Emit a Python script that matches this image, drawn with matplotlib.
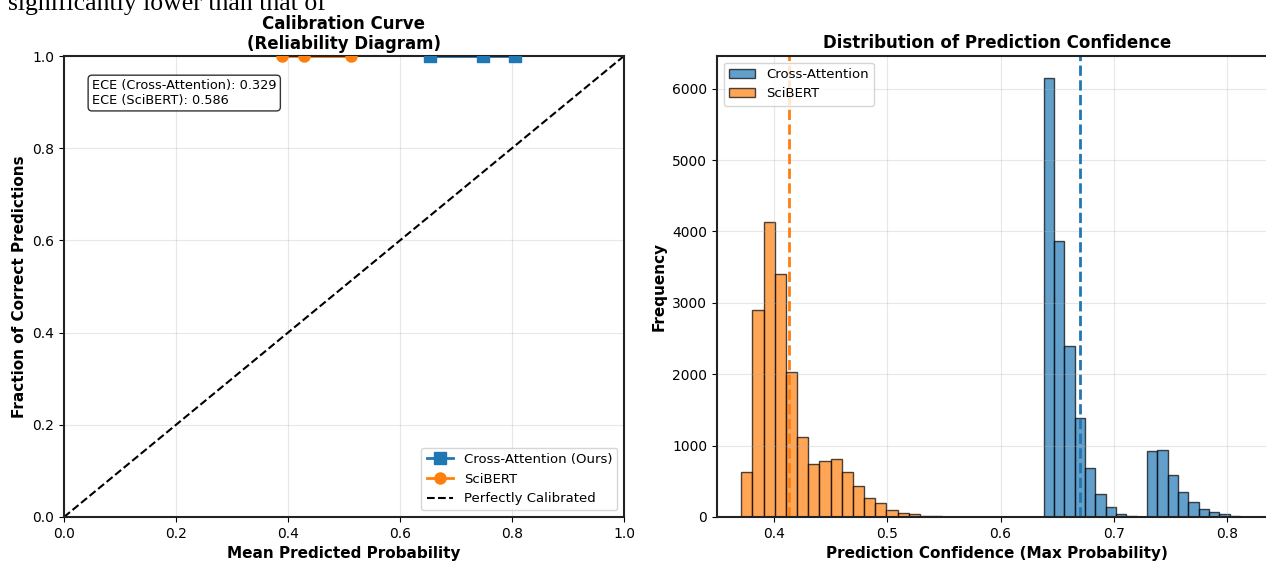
import numpy as np
import matplotlib
matplotlib.use("Agg")
import matplotlib.pyplot as plt
from matplotlib.lines import Line2D

# calibration points (all bins land on fraction = 1.0)
ca_prob = [0.654, 0.749, 0.806]
ca_frac = [1.0, 1.0, 1.0]
sb_prob = [0.390, 0.428, 0.513]
sb_frac = [1.0, 1.0, 1.0]
ece_ca = 0.329
ece_sb = 0.586

# confidence histograms (20 bins each)
sb_bin_start = 0.3711
sb_bin_width = 0.00986
sb_counts = [630, 2894, 4131, 3407, 2030, 1120, 737, 779, 807, 635,
             434, 271, 191, 98, 61, 37, 14, 9, 5, 2]
ca_bin_start = 0.638
ca_bin_width = 0.00912
ca_counts = [6150, 3860, 2396, 1391, 684, 321, 142, 38, 9, 0,
             925, 943, 590, 354, 212, 113, 71, 42, 14, 2]
sb_mean = 0.4132
ca_mean = 0.6703

blue = "#1f77b4"
orange = "#ff7f0e"

fig = plt.figure(figsize=(12.66, 5.63), dpi=100)

# stray caption text from the page above the figure
fig.text(8 / 1266, 1 - 10 / 563, "significantly lower than that of",
         family="Liberation Serif", fontsize=18.5, va="baseline", ha="left")

ax1 = fig.add_axes([64 / 1266, 1 - 517 / 563, 560 / 1266, 461 / 563])
ax2 = fig.add_axes([717 / 1266, 1 - 517 / 563, 560 / 1266, 461 / 563])

# left: reliability diagram (markers clipped at the top edge)
ax1.plot(ca_prob, ca_frac, color=blue, lw=2)
ax1.scatter(ca_prob, ca_frac, marker="s", color=blue, s=64, zorder=3, clip_on=True)
ax1.plot(sb_prob, sb_frac, color=orange, lw=2)
ax1.scatter(sb_prob, sb_frac, marker="o", color=orange, s=64, zorder=3, clip_on=True)
ax1.plot([0, 1], [0, 1], "k--", lw=1.5)
ax1.set_xlim(0, 1)
ax1.set_ylim(0, 1)
ax1.set_xlabel("Mean Predicted Probability", fontsize=11, fontweight="bold")
ax1.set_ylabel("Fraction of Correct Predictions", fontsize=11, fontweight="bold")
ax1.set_title("Calibration Curve\n(Reliability Diagram)", fontsize=12,
              fontweight="bold", linespacing=1.15, pad=5)
handles = [
    Line2D([], [], color=blue, lw=2, marker="s", markersize=8),
    Line2D([], [], color=orange, lw=2, marker="o", markersize=8),
    Line2D([], [], color="k", lw=1.5, linestyle="--"),
]
ax1.legend(handles, ["Cross-Attention (Ours)", "SciBERT", "Perfectly Calibrated"],
           loc="lower right", fontsize=9.5)
ax1.grid(True, alpha=0.3)
ax1.text(0.05, 0.95, f"ECE (Cross-Attention): {ece_ca:.3f}\nECE (SciBERT): {ece_sb:.3f}",
         transform=ax1.transAxes, fontsize=9.3, va="top",
         bbox=dict(boxstyle="round", facecolor="white", alpha=0.8))

# right: confidence distribution
ca_edges = ca_bin_start + ca_bin_width * np.arange(len(ca_counts) + 1)
sb_edges = sb_bin_start + sb_bin_width * np.arange(len(sb_counts) + 1)
ax2.hist(ca_edges[:-1], bins=ca_edges, weights=ca_counts, color=blue,
         alpha=0.7, edgecolor="black", label="Cross-Attention")
ax2.hist(sb_edges[:-1], bins=sb_edges, weights=sb_counts, color=orange,
         alpha=0.7, edgecolor="black", label="SciBERT")
ax2.axvline(ca_mean, color=blue, linestyle="--", lw=2)
ax2.axvline(sb_mean, color=orange, linestyle="--", lw=2)
ax2.set_xlim(0.3497, 0.3497 + 560 / 1133)
ax2.set_xlabel("Prediction Confidence (Max Probability)", fontsize=11, fontweight="bold")
ax2.set_ylabel("Frequency", fontsize=11, fontweight="bold")
ax2.set_title("Distribution of Prediction Confidence", fontsize=12,
              fontweight="bold", pad=6)
ax2.legend(loc="upper left", fontsize=9.5)
ax2.grid(True, alpha=0.3)

for ax in (ax1, ax2):
    for s in ax.spines.values():
        s.set_linewidth(1.5)
        s.set_color("#222222")
    ax.tick_params(labelsize=10)

fig.savefig("out.png", dpi=100)
